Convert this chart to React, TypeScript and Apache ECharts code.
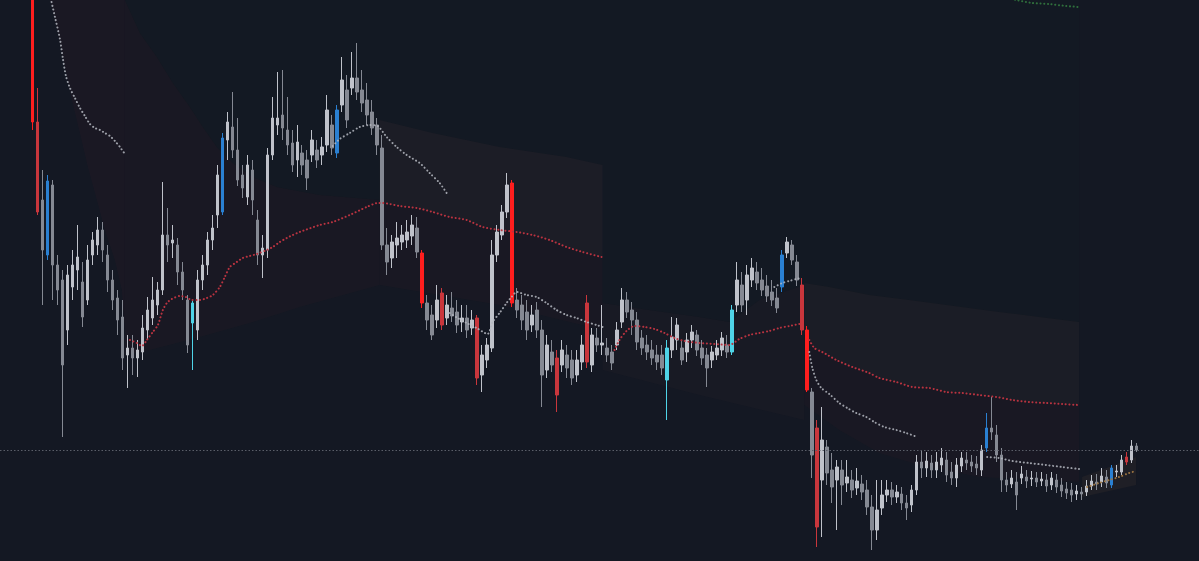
import React, { useEffect, useRef } from "react";
import * as echarts from "echarts";

// ---------- price bars (candle index 0 .. 221) ----------
const LEAD_SLOTS = 6;
const TRAIL_SLOTS = 12;

const open = [
  600, 478, 400, 345, 415, 335, 320, 270, 313, 330,
  318, 300, 345, 355, 370, 345, 320, 302, 283, 245,
  252, 242, 248, 270, 282, 295, 310, 365, 357, 355,
  328, 300, 277, 270, 320, 335, 360, 385, 388, 460,
  473, 450, 425, 403, 430, 380, 345, 350, 445, 475,
  485, 470, 457, 440, 447, 440, 445, 450, 445, 455,
  475, 447, 495, 510, 512, 522, 510, 500, 488, 475,
  452, 355, 342, 355, 358, 360, 364, 372, 347, 297,
  285, 280, 307, 282, 292, 288, 278, 282, 272, 282,
  225, 240, 252, 345, 365, 388, 417, 300, 295, 288,
  275, 290, 270, 230, 248, 242, 235, 245, 240, 225,
  238, 297, 235, 262, 255, 252, 248, 255, 278, 300,
  290, 280, 262, 255, 250, 245, 245, 220, 250, 260,
  252, 248, 260, 265, 252, 245, 240, 245, 250, 255,
  248, 295, 315, 300, 320, 328, 320, 314, 308, 302,
  313, 347, 355, 338, 315, 270, 208, 172, 120, 153,
  130, 120, 130, 117, 120, 112, 116, 110, 93, 70,
  92, 105, 110, 103, 106, 97, 95, 110, 138, 132,
  137, 130, 135, 140, 128, 122, 134, 140, 138, 136,
  130, 152, 172, 165, 145, 120, 116, 118, 122, 123,
  121, 122, 119, 120, 115, 120, 115, 111, 110, 106,
  108, 108, 114, 118, 118, 123, 115, 128, 128, 143,
  140, 154,
];
const close = [
  478, 388, 350, 419, 335, 310, 235, 325, 335, 343,
  283, 340, 360, 370, 350, 320, 300, 280, 242, 252,
  242, 250, 272, 290, 300, 310, 365, 355, 360, 328,
  310, 255, 297, 320, 335, 360, 372, 425, 462, 478,
  450, 420, 412, 435, 400, 345, 352, 445, 482, 482,
  472, 455, 435, 458, 435, 422, 460, 440, 453, 490,
  452, 490, 520, 480, 522, 508, 497, 485, 472, 455,
  355, 338, 358, 362, 365, 368, 375, 348, 297, 280,
  265, 300, 275, 295, 284, 275, 282, 270, 280, 222,
  245, 255, 345, 368, 388, 415, 297, 290, 280, 270,
  285, 270, 225, 255, 235, 205, 250, 232, 222, 240,
  255, 238, 265, 255, 257, 245, 237, 270, 300, 288,
  280, 258, 252, 248, 242, 238, 232, 252, 263, 275,
  240, 260, 268, 250, 242, 232, 248, 252, 262, 248,
  290, 320, 295, 325, 332, 317, 310, 304, 300, 292,
  345, 358, 340, 320, 270, 210, 145, 73, 160, 127,
  113, 133, 115, 123, 110, 119, 108, 93, 70, 90,
  105, 110, 103, 108, 97, 92, 110, 138, 132, 139,
  130, 138, 142, 125, 122, 135, 142, 137, 134, 132,
  150, 172, 168, 145, 120, 115, 122, 105, 126, 119,
  122, 118, 121, 114, 122, 113, 109, 107, 105, 109,
  106, 114, 119, 116, 124, 117, 132, 129, 140, 138,
  154, 150,
];
const low = [
  470, 385, 295, 340, 300, 295, 163, 255, 300, 310,
  273, 295, 335, 345, 338, 308, 290, 265, 230, 212,
  225, 223, 240, 260, 275, 285, 305, 338, 342, 315,
  300, 247, 230, 260, 310, 325, 350, 372, 385, 440,
  442, 414, 402, 395, 385, 335, 322, 342, 440, 465,
  460, 445, 428, 423, 425, 410, 438, 432, 435, 448,
  445, 442, 488, 472, 505, 500, 488, 475, 465, 445,
  350, 325, 332, 342, 350, 352, 355, 342, 292, 270,
  260, 272, 270, 275, 278, 267, 268, 262, 265, 215,
  208, 232, 248, 338, 360, 382, 293, 282, 270, 260,
  268, 262, 193, 222, 228, 188, 228, 222, 215, 218,
  230, 232, 228, 248, 245, 238, 230, 250, 272, 282,
  265, 250, 245, 240, 235, 230, 225, 180, 242, 250,
  235, 238, 252, 244, 235, 213, 232, 240, 244, 242,
  245, 288, 288, 285, 313, 310, 304, 298, 294, 287,
  308, 342, 335, 314, 265, 208, 122, 53, 63, 115,
  97, 70, 95, 108, 102, 105, 100, 85, 50, 60,
  85, 98, 95, 97, 90, 80, 88, 105, 122, 123,
  122, 122, 128, 118, 115, 113, 128, 130, 128, 125,
  124, 148, 160, 138, 108, 108, 112, 90, 116, 112,
  114, 113, 114, 108, 110, 107, 103, 101, 98, 100,
  100, 104, 110, 110, 113, 112, 112, 123, 125, 135,
  137, 148,
];
const high = [
  600, 512, 430, 425, 420, 345, 330, 335, 350, 375,
  338, 355, 368, 383, 378, 355, 330, 310, 300, 265,
  265, 260, 285, 303, 323, 318, 418, 392, 375, 362,
  338, 305, 300, 330, 345, 368, 385, 435, 467, 488,
  508, 482, 435, 445, 440, 390, 365, 452, 503, 528,
  530, 503, 470, 475, 455, 450, 470, 460, 463, 505,
  485, 495, 543, 525, 548, 557, 530, 517, 500, 482,
  465, 372, 365, 378, 375, 380, 385, 383, 350, 305,
  295, 315, 312, 305, 308, 300, 295, 295, 290, 285,
  255, 262, 360, 375, 395, 427, 420, 312, 305, 300,
  295, 298, 280, 265, 260, 250, 260, 255, 250, 250,
  265, 305, 272, 272, 295, 262, 255, 278, 312, 308,
  298, 288, 270, 265, 260, 255, 255, 260, 283, 282,
  260, 267, 275, 270, 260, 252, 254, 260, 268, 265,
  295, 338, 328, 335, 342, 338, 332, 325, 320, 312,
  350, 363, 360, 345, 322, 274, 212, 180, 193, 160,
  147, 140, 140, 140, 130, 132, 125, 120, 105, 120,
  120, 120, 118, 115, 113, 105, 115, 145, 150, 148,
  145, 148, 152, 148, 138, 142, 148, 148, 145, 144,
  155, 187, 203, 175, 152, 128, 130, 128, 134, 130,
  129, 128, 128, 126, 128, 126, 122, 118, 117, 115,
  113, 120, 125, 126, 132, 130, 135, 135, 145, 148,
  160, 157,
];

// bars flagged by the indicator (candle indices)
const signalStrongSell = [0, 78, 96, 155];
const signalSell = [1, 82, 89, 105, 111, 154, 157, 219];
const signalBuy = [3, 38, 61, 150, 191, 216];
const signalStrongBuy = [32, 127, 140];

// ---------- indicator lines: [candle index, price] ----------
const trailA = [[3.5, 605], [4.5, 583], [5.5, 561], [6.1, 541], [6.7, 524], [7.5, 512], [8.5, 502], [9.5, 492], [10.5, 484], [11.5, 476], [12.5, 472], [13.5, 470], [14.5, 467], [15.5, 464], [16.5, 459], [17.5, 453], [18.5, 446]];
const trailB = [[60.1, 454], [61.5, 461], [63.5, 467], [65.5, 473], [67.5, 475], [69.1, 474], [70.9, 463], [72.9, 453], [74.9, 445], [77.5, 437], [79.5, 427], [81.5, 417], [82.9, 407]];
const trailC = [[83.5, 287], [85.1, 282], [86.9, 277], [88.9, 272], [91.1, 266], [92.1, 278], [93.5, 287], [94.9, 297], [95.9, 303], [96.9, 308], [98.9, 305], [100.9, 303], [102.9, 297], [104.9, 290], [106.9, 285], [108.9, 282], [110.9, 278], [112.9, 275], [114.1, 273]];
const trailD = [[148.5, 313], [150.1, 317], [151.5, 319], [152.9, 321], [154.1, 322]];
const trailE = [[155.5, 248], [156.1, 232], [156.9, 220], [157.9, 212], [159.5, 206], [161.5, 197], [163.1, 192], [164.9, 187], [166.9, 183], [168.5, 178], [170.5, 173], [172.9, 170], [174.9, 167], [177.1, 163]];
const trailF = [[191.1, 143], [193.5, 142], [196.1, 139], [199.5, 137], [202.9, 135], [206.1, 133], [209.5, 131]];
const trailG = [[211.1, 113], [213.5, 117], [215.5, 120], [217.5, 123], [219.5, 127], [220.9, 129]];

const vwap1 = [[19.5, 260], [20.9, 257], [21.9, 254], [22.9, 260], [24.1, 268], [25.1, 275], [26.1, 290], [26.9, 297], [27.9, 301], [29.5, 304], [30.7, 303], [31.9, 300], [33.5, 300], [34.9, 302], [36.1, 305], [37.5, 313], [38.5, 323], [39.5, 333], [40.9, 338], [42.1, 342], [43.5, 344], [44.9, 346], [46.9, 350], [48.1, 353], [49.5, 358], [50.9, 362], [52.1, 365], [53.5, 368], [57.5, 375], [60.1, 378], [63.5, 385], [66.9, 393], [69.1, 397], [70.1, 397], [73.5, 394], [76.9, 392], [80.1, 388], [83.5, 383], [86.9, 380], [90.1, 373], [93.5, 370], [96.9, 368], [100.1, 365], [103.5, 360], [106.9, 353], [110.1, 348], [113.9, 343]];
const vwap2 = [[116.5, 250], [117.5, 260], [118.9, 269], [120.5, 274], [122.5, 273], [124.5, 271], [126.5, 267], [128.5, 262], [130.5, 259], [133.5, 257], [136.5, 256], [139.5, 255], [141.5, 261], [143.5, 265], [145.5, 267], [147.5, 269], [149.5, 272], [151.5, 274], [153.5, 276]];
const vwap3 = [[155.5, 260], [156.5, 252], [158.1, 248], [160.9, 240], [164.1, 233], [167.5, 227], [169.5, 222], [172.9, 218], [176.1, 213], [179.5, 212], [182.9, 208], [186.1, 207], [189.5, 205], [192.9, 203], [196.1, 200], [199.5, 198], [202.9, 197], [206.1, 196], [209.5, 195]];
const upperBand = [[194.5, 603], [196.9, 600], [200.1, 597], [203.5, 596], [206.9, 594], [209.5, 593]];

// ---------- band areas: polygons of [candle index, price] ----------
const zoneRed1 = [[3.1, 610], [18.5, 610], [18.5, 270], [17.9, 310], [16.5, 340], [14.5, 370], [12.9, 400], [11.1, 433], [9.5, 467], [7.9, 500], [6.5, 533], [5.1, 567], [3.5, 600]];
const zoneGreen = [[18.5, 610], [209.5, 610], [209.5, 278], [193.5, 288], [175.5, 300], [167.5, 305], [159.5, 313], [154.5, 317], [154.5, 315], [145.5, 300], [139.5, 278], [133.5, 283], [123.5, 290], [114.1, 297], [114.1, 435], [106.9, 443], [93.5, 453], [80.1, 467], [69.5, 480], [69.5, 400], [57.5, 405], [48.9, 413], [44.1, 423], [40.1, 437], [36.9, 453], [34.1, 473], [31.5, 493], [28.1, 517], [24.9, 543], [21.5, 567], [18.5, 600]];
const zoneRed2 = [[18.5, 600], [21.5, 567], [24.9, 543], [28.1, 517], [31.5, 493], [34.1, 473], [36.9, 453], [40.1, 437], [44.1, 423], [48.9, 413], [57.5, 405], [69.5, 400], [69.5, 315], [53.5, 293], [43.5, 277], [33.5, 263], [23.5, 250], [18.5, 245]];
const zoneUpper3 = [[69.5, 480], [80.1, 467], [93.5, 453], [106.9, 443], [114.1, 435], [114.1, 343], [110.1, 348], [106.9, 353], [103.5, 360], [100.1, 365], [96.9, 368], [93.5, 370], [90.1, 373], [86.9, 380], [83.5, 383], [80.1, 388], [76.9, 392], [73.5, 394], [69.5, 397]];
const zoneRed3 = [[69.5, 397], [73.5, 394], [76.9, 392], [80.1, 388], [83.5, 383], [86.9, 380], [90.1, 373], [93.5, 370], [96.9, 368], [100.1, 365], [103.5, 360], [106.9, 353], [110.1, 348], [114.1, 343], [114.1, 270], [93.5, 295], [69.5, 315]];
const zoneMid4 = [[114.1, 297], [123.5, 290], [133.5, 283], [139.5, 278], [145.5, 300], [154.5, 315], [154.5, 180], [133.5, 205], [114.1, 230]];
const zoneUpper5 = [[154.5, 317], [159.5, 313], [167.5, 305], [175.5, 300], [193.5, 288], [209.5, 278], [209.5, 195], [206.1, 196], [202.9, 197], [199.5, 198], [196.1, 200], [192.9, 203], [189.5, 205], [186.1, 207], [182.9, 208], [179.5, 212], [176.1, 213], [172.9, 218], [169.5, 222], [167.5, 227], [164.1, 233], [160.9, 240], [158.1, 248], [156.5, 252], [155.5, 260], [154.5, 265]];
const zoneRed5 = [[154.5, 265], [155.5, 260], [156.5, 252], [158.1, 248], [160.9, 240], [164.1, 233], [167.5, 227], [169.5, 222], [172.9, 218], [176.1, 213], [179.5, 212], [182.9, 208], [186.1, 207], [189.5, 205], [192.9, 203], [196.1, 200], [199.5, 198], [202.9, 197], [206.1, 196], [209.5, 195], [209.5, 118], [189.5, 123], [177.5, 135], [169.5, 147], [161.5, 170], [154.5, 195]];
const zoneUpper6 = [[210.1, 123], [220.9, 143], [220.9, 115], [210.1, 103]];

export default function App() {
  const ref = useRef<HTMLDivElement>(null);

  useEffect(() => {
    if (!ref.current) return;
    const chart = echarts.init(ref.current, null, { renderer: "svg" });
    const n = open.length;
    const totalSlots = LEAD_SLOTS + n + TRAIL_SLOTS;
    const cats = Array.from({ length: totalSlots }, (_, i) => String(i + 1));

    const sigColor: Record<number, string> = {};
    signalStrongSell.forEach((i) => (sigColor[i] = "#ff1e1e"));
    signalSell.forEach((i) => (sigColor[i] = "#c9363c"));
    signalBuy.forEach((i) => (sigColor[i] = "#2a80d2"));
    signalStrongBuy.forEach((i) => (sigColor[i] = "#4fd4e8"));

    const candleData = open.map((o, k) => {
      const item: any = { value: [LEAD_SLOTS + k, o, close[k], low[k], high[k]] };
      const c = sigColor[k];
      if (c) item.itemStyle = { color: c, color0: c, borderColor: c, borderColor0: c };
      return item;
    });

    const zones = [
      { pts: zoneGreen, fill: "rgba(10,60,45,0.045)" },
      { pts: zoneRed1, fill: "rgba(140,40,50,0.06)" },
      { pts: zoneRed2, fill: "rgba(130,40,50,0.045)" },
      { pts: zoneUpper3, fill: "rgba(170,120,100,0.06)" },
      { pts: zoneRed3, fill: "rgba(130,40,50,0.045)" },
      { pts: zoneMid4, fill: "rgba(140,70,70,0.04)" },
      { pts: zoneUpper5, fill: "rgba(170,120,100,0.055)" },
      { pts: zoneRed5, fill: "rgba(130,40,50,0.045)" },
      { pts: zoneUpper6, fill: "rgba(170,120,80,0.08)" },
    ];

    const dot = (data: number[][], color: string, width: number) => ({
      type: "line",
      xAxisIndex: 1,
      yAxisIndex: 0,
      data,
      smooth: 0.25,
      showSymbol: false,
      silent: true,
      z: 5,
      lineStyle: { color, width, type: [0.1, 3.6], cap: "round" },
    });

    const gray = "rgba(180,183,192,0.85)";
    const red = "#b83340";

    chart.setOption({
      animation: false,
      backgroundColor: "#141823",
      grid: { left: 0, right: 0, top: 0, bottom: 0, containLabel: false },
      xAxis: [
        { type: "category", data: cats, show: false, boundaryGap: true },
        { type: "value", min: -LEAD_SLOTS - 0.5, max: n + TRAIL_SLOTS - 0.5, show: false },
      ],
      yAxis: { type: "value", min: 39, max: 600, show: false, splitLine: { show: false } },
      series: [
        {
          type: "custom",
          xAxisIndex: 1,
          yAxisIndex: 0,
          silent: true,
          z: 1,
          data: zones.map((zn, i) => [zn.pts[0][0], zn.pts[0][1], i]),
          renderItem: (params: any, api: any) => {
            const zn = zones[params.dataIndex];
            return {
              type: "polygon",
              shape: { points: zn.pts.map((p) => api.coord(p)) },
              style: { fill: zn.fill, stroke: null },
            };
          },
        },
        {
          type: "candlestick",
          xAxisIndex: 0,
          yAxisIndex: 0,
          encode: { x: 0, y: [1, 2, 3, 4] },
          data: candleData,
          barWidth: 3,
          z: 3,
          silent: true,
          itemStyle: {
            color: "#bfc2ca",
            color0: "#858993",
            borderColor: "#bfc2ca",
            borderColor0: "#858993",
            borderWidth: 1,
          },
          markLine: {
            silent: true,
            symbol: ["none", "none"],
            label: { show: false },
            lineStyle: { color: "#5a5e69", type: [1.5, 2], width: 1 },
            data: [{ yAxis: close[close.length - 1] }],
          },
        },
        dot(trailA, gray, 2),
        dot(trailB, gray, 2),
        dot(trailC, gray, 2),
        dot(trailD, gray, 2),
        dot(trailE, gray, 2),
        dot(trailF, gray, 2),
        dot(trailG, "#9c7442", 2),
        dot(vwap1, red, 2),
        dot(vwap2, red, 2),
        dot(vwap3, red, 2),
        dot(upperBand, "#2f6f3c", 2),
      ],
    });

    return () => chart.dispose();
  }, []);

  return (
    <div
      ref={ref}
      style={{ position: "fixed", left: 0, top: 0, width: 1199, height: 561, background: "#141823" }}
    />
  );
}
